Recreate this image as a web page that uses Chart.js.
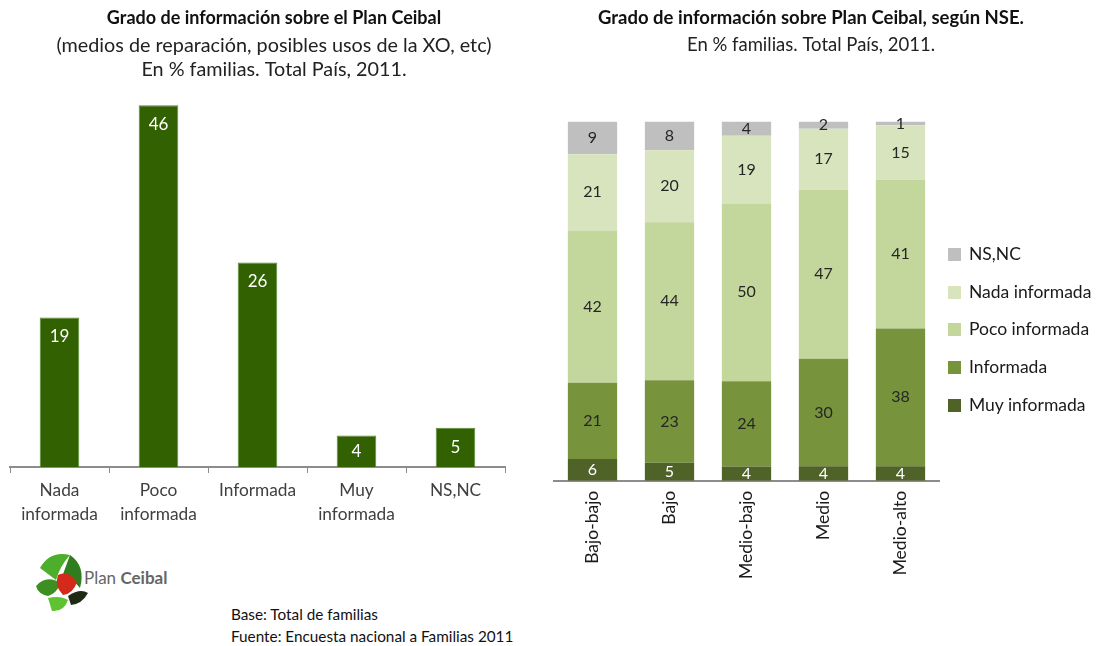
<!DOCTYPE html>
<html>
<head>
<meta charset="utf-8">
<script src="https://cdn.jsdelivr.net/npm/chart.js@4"></script>
<style>
body{margin:0;background:#fff;width:1104px;height:646px;position:relative;overflow:hidden;font-family:Lato,sans-serif;}
#left{position:absolute;left:0;top:0;}
#right{position:absolute;left:548px;top:0;}
#legend{position:absolute;left:948px;top:235px;font-size:17.5px;color:#1a1a1a;}
#legend div{height:37.7px;line-height:37.7px;white-space:nowrap;}
#legend span{display:inline-block;width:13px;height:13px;margin-right:8px;vertical-align:-1px;}
.note{position:absolute;left:231px;top:603px;font-size:15.3px;line-height:22px;color:#111;}
#logo{position:absolute;left:30px;top:548px;}
</style>
</head>
<body>
<canvas id="left" width="548" height="535"></canvas>
<canvas id="right" width="526" height="597"></canvas>
<div id="legend"></div>

<svg id="logo" width="150" height="70" viewBox="0 0 150 70">
  <path d="M10 20 Q20 2 40 7 Q30 18 26 32 Z" fill="#4cae2a"/>
  <path d="M40 7 Q56 18 50 40 Q42 30 32 29 Z" fill="#2f7d1c"/>
  <path d="M6 38 Q16 26 31 35 Q26 46 18 48 Q8 46 6 38 Z" fill="#3d8f22"/>
  <path d="M28 27 Q39 22 47 34 Q43 46 33 47 Q24 38 28 27 Z" fill="#d42a1c"/>
  <path d="M18 50 Q30 47 38 52 Q34 64 22 63 Z" fill="#5fc231"/>
  <path d="M38 48 Q50 40 58 45 Q52 56 41 57 Z" fill="#1e2a14"/>
  <text x="54" y="36" font-family="Lato" font-size="17" fill="#666">Plan <tspan font-weight="bold">Ceibal</tspan></text>
</svg>

<div class="note">Base: Total de familias<br>Fuente: Encuesta nacional a Familias 2011</div>

<script>
// left chart: total pais
let categories = [['Nada', 'informada'], ['Poco', 'informada'], 'Informada', ['Muy', 'informada'], 'NS,NC'];
let totals = [19, 46, 26, 4, 5];

// right chart: segun NSE
let nseGroups = ['Bajo-bajo', 'Bajo', 'Medio-bajo', 'Medio', 'Medio-alto'];
let muyInformada = [6, 5, 4, 4, 4];
let informada = [21, 23, 24, 30, 38];
let pocoInformada = [42, 44, 50, 47, 41];
let nadaInformada = [21, 20, 19, 17, 15];
let nsnc = [9, 8, 4, 2, 1];

let font = 'Lato';

// labels written on the bars
let barLabels = {
  id: 'barLabels',
  afterDatasetsDraw(chart, args, opts) {
    let ctx = chart.ctx;
    ctx.save();
    ctx.font = opts.size + 'px ' + font;
    ctx.textAlign = 'center';
    ctx.textBaseline = 'middle';
    chart.data.datasets.forEach((ds, i) => {
      let meta = chart.getDatasetMeta(i);
      meta.data.forEach((bar, j) => {
        let top = bar.y, bottom = bar.base;
        let y = (top + bottom) / 2;
        if (opts.insideEnd && bottom - top > 40) y = top + 19;
        ctx.fillStyle = ds.labelColor || opts.color;
        ctx.fillText(ds.raw[j], bar.x, y);
      });
    });
    ctx.restore();
  }
};

function titleOpts(text, size) {
  return {
    display: true, text: text, color: '#111',
    font: { family: font, size: size, weight: 'bold', lineHeight: 24.8 / size },
    padding: { top: 6, bottom: 2 }
  };
}

// invisible axis on the right, only reserves room so the titles sit centred
function spacer(width) {
  return {
    position: 'right',
    ticks: { display: false },
    grid: { display: false },
    border: { display: false },
    afterFit: s => { s.width = width; }
  };
}

new Chart(document.getElementById('left'), {
  type: 'bar',
  data: {
    labels: categories,
    datasets: [{
      data: totals,
      raw: totals,
      backgroundColor: '#316100',
      borderColor: '#5b8a36',
      borderWidth: 1,
      barPercentage: 0.4,
      categoryPercentage: 1
    }]
  },
  options: {
    responsive: false,
    animation: false,
    layout: { padding: { left: 10, right: 10, bottom: 4 } },
    plugins: {
      legend: { display: false },
      tooltip: { enabled: false },
      title: titleOpts('Grado de información sobre el Plan Ceibal', 18),
      subtitle: {
        display: true,
        text: ['(medios de reparación, posibles usos de la XO, etc)', 'En % familias. Total País, 2011.'],
        color: '#222',
        font: { family: font, size: 19.8, lineHeight: 24.8 / 19.8 },
        padding: { top: 0, bottom: 4 }
      },
      barLabels: { size: 17, color: '#fff', insideEnd: true }
    },
    scales: {
      x: {
        grid: { drawOnChartArea: false, tickLength: 6, color: '#8c8c8c' },
        border: { color: '#8c8c8c', width: 2 },
        ticks: { color: '#404040', padding: 5, font: { family: font, size: 17.3, lineHeight: 24 / 17.3 } }
      },
      y: Object.assign(spacer(33), { min: 0, max: 48.4 })
    }
  },
  plugins: [barLabels]
});

// 100% stacked: each group scaled to its own total
let groupTotals = nseGroups.map((g, i) => muyInformada[i] + informada[i] + pocoInformada[i] + nadaInformada[i] + nsnc[i]);
function share(arr) {
  return arr.map((v, i) => v / groupTotals[i] * 100);
}

let series = [
  { label: 'Muy informada', values: muyInformada, color: '#4f6228', labelColor: '#fff' },
  { label: 'Informada', values: informada, color: '#77933c' },
  { label: 'Poco informada', values: pocoInformada, color: '#c3d69b' },
  { label: 'Nada informada', values: nadaInformada, color: '#d7e4bd' },
  { label: 'NS,NC', values: nsnc, color: '#bfbfbf' }
];

let rightChart = new Chart(document.getElementById('right'), {
  type: 'bar',
  data: {
    labels: nseGroups,
    datasets: series.map(s => ({
      label: s.label,
      data: share(s.values),
      raw: s.values,
      labelColor: s.labelColor,
      backgroundColor: s.color,
      barPercentage: 0.64,
      categoryPercentage: 1
    }))
  },
  options: {
    responsive: false,
    animation: false,
    layout: { padding: { left: 6, right: 6, bottom: 8 } },
    plugins: {
      legend: { display: false },
      tooltip: { enabled: false },
      title: titleOpts('Grado de información sobre Plan Ceibal, según NSE.', 18.5),
      subtitle: {
        display: true,
        text: 'En % familias. Total País, 2011.',
        color: '#222',
        font: { family: font, size: 18.5, lineHeight: 24.8 / 18.5 },
        padding: { top: 0, bottom: 64 }
      },
      barLabels: { size: 16, color: '#262626' }
    },
    scales: {
      x: {
        stacked: true,
        grid: { display: false, drawTicks: false },
        border: { color: '#8c8c8c', width: 2 },
        ticks: { color: '#1a1a1a', padding: 10, minRotation: 90, maxRotation: 90, font: { family: font, size: 17.5 } }
      },
      y: Object.assign(spacer(129), { stacked: true, min: 0, max: 100 })
    }
  },
  plugins: [barLabels]
});

// legend built from the chart's datasets, top item first
let legend = document.getElementById('legend');
rightChart.data.datasets.slice().reverse().forEach(ds => {
  let item = document.createElement('div');
  item.innerHTML = '<span style="background:' + ds.backgroundColor + '"></span>' + ds.label;
  legend.appendChild(item);
});
</script>
</body>
</html>
